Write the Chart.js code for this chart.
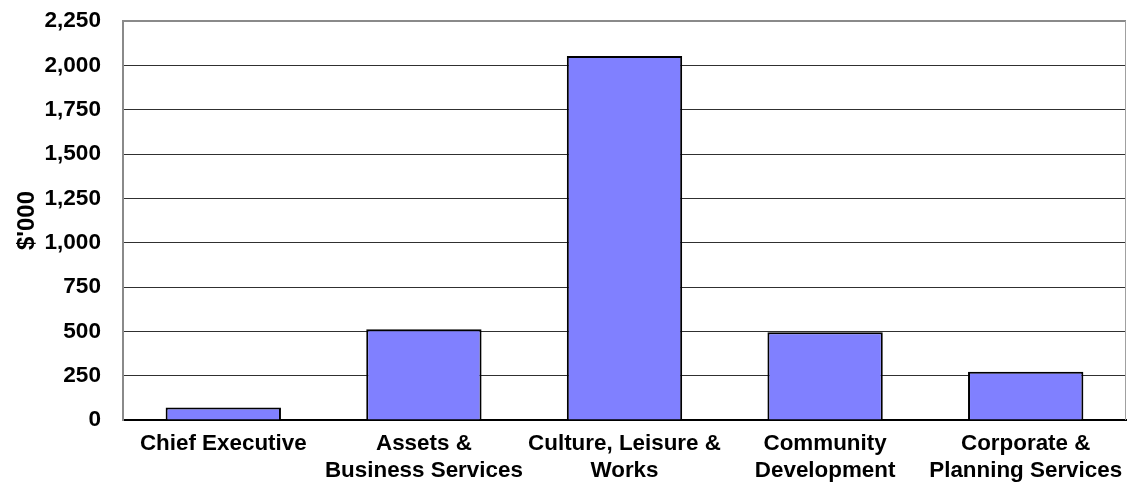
<!DOCTYPE html>
<html>
<head>
<meta charset="utf-8">
<title>Expenditure by directorate</title>
<script src="https://cdn.jsdelivr.net/npm/chart.js@4/dist/chart.umd.min.js"></script>
<style>
    html, body { margin: 0; padding: 0; background: #fff; }
    #wrap { width: 1127px; height: 485px; }
</style>
</head>
<body>
<div id="wrap"><canvas id="spendChart" width="1127" height="485"></canvas></div>
<script>
// Chart values
const categories = [
    ["Chief Executive"],
    ["Assets &", "Business Services"],
    ["Culture, Leisure &", "Works"],
    ["Community", "Development"],
    ["Corporate &", "Planning Services"]
];
const spending = [70, 512, 2052, 495, 272];
const yTicks = [0, 250, 500, 750, 1000, 1250, 1500, 1750, 2000, 2250];

const fontFamily = '"Liberation Sans", Arial, sans-serif';

// Right-hand frame line of the plot area
const frameRight = {
    id: 'frameRight',
    afterDraw(chart) {
        const { ctx, chartArea } = chart;
        ctx.save();
        ctx.strokeStyle = '#a0a0a0';
        ctx.lineWidth = 1;
        ctx.beginPath();
        ctx.moveTo(chartArea.right - 0.5, chartArea.top);
        ctx.lineTo(chartArea.right - 0.5, chartArea.bottom);
        ctx.stroke();
        ctx.restore();
    }
};

// keep the plot area where the reference has it, labels may overflow
function noOverflow(scale) {
    scale.paddingTop = 0;
    scale.paddingBottom = 0;
    scale.paddingLeft = 0;
    scale.paddingRight = 0;
}

document.addEventListener("DOMContentLoaded", () => {
    const ctx = document.getElementById("spendChart").getContext("2d");
    new Chart(ctx, {
        type: "bar",
        data: {
            labels: categories,
            datasets: [{
                label: "$'000",
                data: spending,
                backgroundColor: "#8080ff",
                borderColor: "#000000",
                borderWidth: 2,
                categoryPercentage: 1,
                barPercentage: 0.575
            }]
        },
        options: {
            responsive: false,
            animation: false,
            layout: { padding: { top: 21, right: 1, left: 0, bottom: 0 } },
            plugins: {
                legend: { display: false },
                tooltip: { enabled: false }
            },
            scales: {
                x: {
                    grid: { display: false, drawTicks: false },
                    border: { color: "#000000", width: 2 },
                    ticks: {
                        color: "#000",
                        font: { family: fontFamily, size: 22.4, weight: "bold", lineHeight: 1.18 },
                        padding: 11,
                        maxRotation: 0,
                        autoSkip: false
                    },
                    afterFit: scale => {
                        scale.height = 65;
                        noOverflow(scale);
                    }
                },
                y: {
                    min: 0,
                    max: 2250,
                    afterBuildTicks: scale => {
                        scale.ticks = yTicks.map(v => ({ value: v }));
                    },
                    grid: {
                        drawTicks: false,
                        color: c => (c.tick && c.tick.value === 2250) ? "#8a8a8a" : "#303030",
                        lineWidth: c => (c.tick && c.tick.value === 2250) ? 2 : 1
                    },
                    border: { color: "#8a8a8a", width: 2 },
                    ticks: {
                        color: "#000",
                        font: { family: fontFamily, size: 22.6, weight: "bold" },
                        padding: 22,
                        callback: v => v.toLocaleString("en-US")
                    },
                    title: {
                        display: true,
                        text: "$'000",
                        color: "#000",
                        font: { family: fontFamily, size: 24, weight: "bold" },
                        padding: { top: 13, bottom: 0 }
                    },
                    afterFit: scale => {
                        scale.width = 123;
                        noOverflow(scale);
                    }
                }
            }
        },
        plugins: [frameRight]
    });
});
</script>
</body>
</html>
